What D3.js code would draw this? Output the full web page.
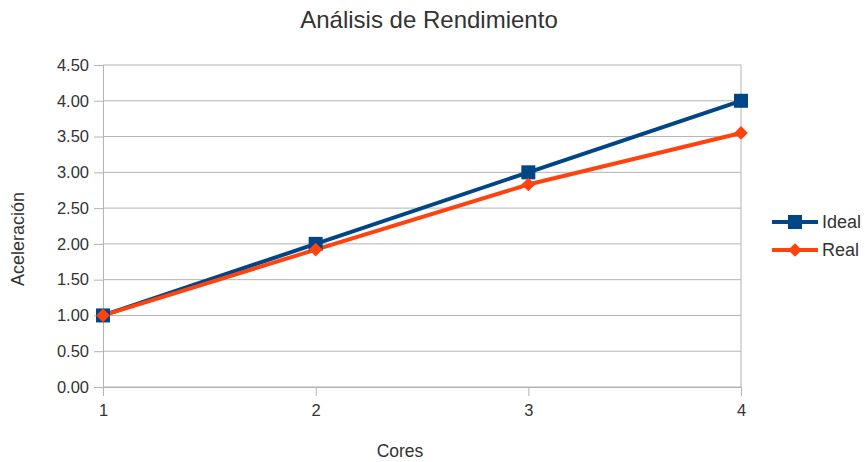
<!DOCTYPE html>
<html>
<head>
<meta charset="utf-8">
<script src="https://cdn.jsdelivr.net/npm/d3@7"></script>
<style>
  body { margin: 0; background: #fff; }
  svg { font-family: "Liberation Sans", Arial, sans-serif; }
</style>
</head>
<body>
<svg id="chart" width="865" height="462"></svg>
<script>
const cores = [1, 2, 3, 4];
const ideal = [1.00, 2.00, 3.00, 4.00];
const real = [1.00, 1.92, 2.83, 3.55];
const yTicks = [0, 0.5, 1, 1.5, 2, 2.5, 3, 3.5, 4, 4.5];
const seriesNames = ["Ideal", "Real"];
const colors = ["#004586", "#ff420e"];

const svg = d3.select('#chart');

const x = d3.scaleLinear().domain([1, 4]).range([103, 741]);
const y = d3.scaleLinear().domain([0, 4.5]).range([387, 65]);

// horizontal grid
svg.append('g')
    .selectAll('line')
    .data(yTicks)
    .join('line')
    .attr('x1', x(1)).attr('x2', x(4))
    .attr('y1', d => y(d)).attr('y2', d => y(d))
    .attr('stroke', '#b3b3b3').attr('stroke-width', 1);

// right border
svg.append('line')
    .attr('x1', x(4)).attr('x2', x(4))
    .attr('y1', y(4.5)).attr('y2', y(0))
    .attr('stroke', '#b3b3b3');

const yAxis = svg.append('g')
    .attr('transform', `translate(${x(1)},0)`)
    .call(d3.axisLeft(y).tickValues(yTicks).tickFormat(d3.format('.2f')).tickSize(9).tickPadding(5));

const xAxis = svg.append('g')
    .attr('transform', `translate(0,${y(0)})`)
    .call(d3.axisBottom(x).tickValues(cores).tickFormat(d3.format('d')).tickSize(9).tickPadding(8));

[yAxis, xAxis].forEach(a => {
    a.selectAll('path, line').attr('stroke', '#b3b3b3');
    a.selectAll('text').attr('font-size', 16.5).attr('fill', '#333').attr('font-family', '"Liberation Sans", Arial, sans-serif');
});

// titles
svg.append('text')
    .attr('x', 429).attr('y', 28)
    .attr('text-anchor', 'middle')
    .attr('font-size', 24).attr('fill', '#333')
    .text('Análisis de Rendimiento');

svg.append('text')
    .attr('x', 400).attr('y', 457)
    .attr('text-anchor', 'middle')
    .attr('font-size', 17.5).attr('fill', '#333')
    .text('Cores');

svg.append('text')
    .attr('transform', 'translate(24,239) rotate(-90)')
    .attr('text-anchor', 'middle')
    .attr('font-size', 18).attr('fill', '#333')
    .text('Aceleración');

const line = d3.line().x((d, i) => x(cores[i])).y(d => y(d));
const data = [ideal, real];

data.forEach((vals, k) => {
    svg.append('path')
        .datum(vals)
        .attr('d', line)
        .attr('fill', 'none')
        .attr('stroke', colors[k])
        .attr('stroke-width', 4);
});

const square = d3.symbol().type(d3.symbolSquare).size(196);
const diamond = d3.symbol().type(d3.symbolDiamond2).size(120);
const symbols = [square, diamond];

data.forEach((vals, k) => {
    svg.append('g')
        .selectAll('path')
        .data(vals)
        .join('path')
        .attr('d', symbols[k])
        .attr('transform', (d, i) => `translate(${x(cores[i])},${y(d)})`)
        .attr('fill', colors[k]);
});

// legend
const legend = svg.append('g');
seriesNames.forEach((name, k) => {
    const ly = 222 + k * 28;
    legend.append('line')
        .attr('x1', 772).attr('x2', 818)
        .attr('y1', ly).attr('y2', ly)
        .attr('stroke', colors[k]).attr('stroke-width', 4);
    legend.append('path')
        .attr('d', symbols[k])
        .attr('transform', `translate(795,${ly})`)
        .attr('fill', colors[k]);
    legend.append('text')
        .attr('x', 822).attr('y', ly + 6)
        .attr('font-size', 18).attr('fill', '#333')
        .text(name);
});
</script>
</body>
</html>
